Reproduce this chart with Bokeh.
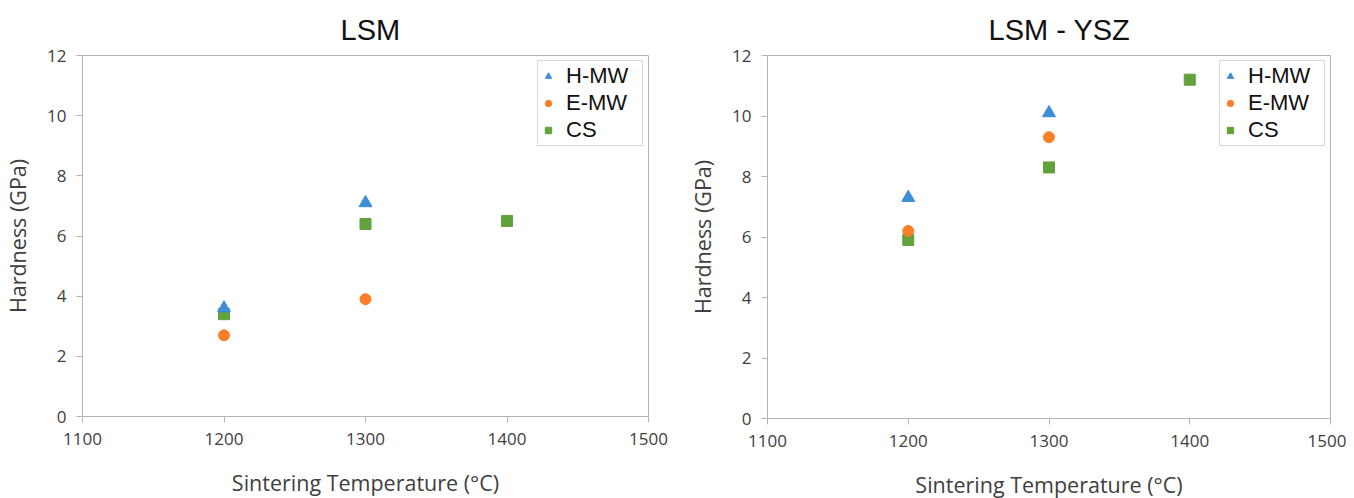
from bokeh.plotting import figure
from bokeh.layouts import row
from bokeh.models import FixedTicker, Legend, LegendItem, Range1d
from bokeh.embed import file_html
from bokeh.resources import INLINE

# ---- data ----
temps_mw = [1200, 1300]
temps_cs = [1200, 1300, 1400]

lsm_h_mw = [3.6, 7.1]
lsm_e_mw = [2.7, 3.9]
lsm_cs = [3.4, 6.4, 6.5]

ysz_h_mw = [7.3, 10.1]
ysz_e_mw = [6.2, 9.3]
ysz_cs = [5.9, 8.3, 11.2]

x_ticks = [1100, 1200, 1300, 1400, 1500]
y_ticks = [0, 2, 4, 6, 8, 10, 12]

series_labels = ["H-MW", "E-MW", "CS"]

BLUE = "#3E8ED6"
ORANGE = "#FD7E28"
GREEN = "#60A23B"
AXIS_GRAY = "#B4B4B4"
TEXT_GRAY = "#404040"
TICK_FONT = "Open Sans"
ARIAL = "Liberation Sans"


def make_plot(title, h, e, cs, frame, borders, ylab_standoff, title_offset):
    fw, fh = frame
    bl, br, bt, bb = borders
    p = figure(frame_width=fw, frame_height=fh, output_backend="svg", toolbar_location=None,
               x_range=Range1d(1100, 1500), y_range=Range1d(0, 12),
               min_border_left=bl, min_border_right=br,
               min_border_top=bt, min_border_bottom=bb)
    p.title.text = title
    p.title.align = "left"
    p.title.offset = title_offset
    p.title.standoff = 20
    p.title.text_font = ARIAL
    p.title.text_font_size = "29px"
    p.title.text_font_style = "normal"
    p.title.text_color = "#111111"

    p.xgrid.visible = False
    p.ygrid.visible = False
    p.outline_line_color = AXIS_GRAY
    p.outline_line_width = 1
    p.background_fill_color = "white"
    p.border_fill_color = "white"

    p.xaxis.ticker = FixedTicker(ticks=x_ticks)
    p.yaxis.ticker = FixedTicker(ticks=y_ticks)
    for ax in (p.xaxis[0], p.yaxis[0]):
        ax.axis_line_color = AXIS_GRAY
        ax.major_tick_line_color = AXIS_GRAY
        ax.minor_tick_line_color = None
        ax.major_tick_in = 0
        ax.major_tick_out = 6
        ax.major_label_text_font = TICK_FONT
        ax.major_label_text_font_size = "17px"
        ax.major_label_text_color = TEXT_GRAY
        ax.axis_label_text_font = TICK_FONT
        ax.axis_label_text_font_size = "21.5px"
        ax.axis_label_text_font_style = "normal"
        ax.axis_label_text_color = TEXT_GRAY
    p.xaxis.axis_label = "Sintering Temperature (°C)"
    p.yaxis.axis_label = "Hardness (GPa)"
    p.xaxis.major_label_standoff = 10
    p.xaxis.axis_label_standoff = 20
    p.yaxis.major_label_standoff = 10
    p.yaxis.axis_label_standoff = ylab_standoff

    r_cs = p.scatter(temps_cs, cs, marker="square", size=11, color=GREEN)
    r_e = p.scatter(temps_mw, e, marker="circle", size=11, color=ORANGE)
    r_h = p.scatter(temps_mw, h, marker="triangle", size=13, color=BLUE)

    legend = Legend(items=[LegendItem(label=series_labels[0], renderers=[r_h]),
                           LegendItem(label=series_labels[1], renderers=[r_e]),
                           LegendItem(label=series_labels[2], renderers=[r_cs])],
                    location="top_right", margin=5, padding=2, spacing=1,
                    glyph_width=16, glyph_height=20, label_height=20,
                    label_width=74, label_standoff=10,
                    label_text_font=ARIAL, label_text_font_size="22px",
                    label_text_color="#111111",
                    border_line_color=AXIS_GRAY, border_line_width=1,
                    background_fill_alpha=1.0)
    p.add_layout(legend)
    return p


p1 = make_plot("LSM", lsm_h_mw, lsm_e_mw, lsm_cs, (566, 361), (74, 29, 55, 74), 12, 258)
p2 = make_plot("LSM - YSZ", ysz_h_mw, ysz_e_mw, ysz_cs, (563, 363), (90, 16, 55, 72), 12, 221)

layout = row(p1, p2)
open("out.html", "w").write(file_html(layout, INLINE))
